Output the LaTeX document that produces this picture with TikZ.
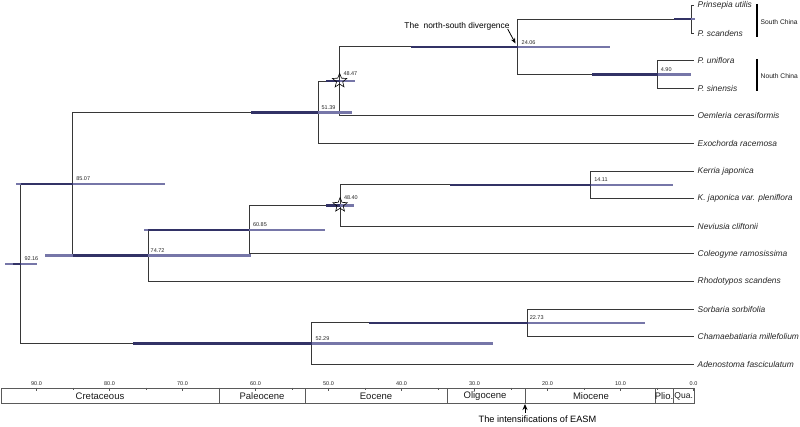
\documentclass[tikz,border=0pt]{standalone}
\usepackage{fontspec}
\setmainfont{Liberation Sans}
\usetikzlibrary{shapes.geometric,arrows.meta}
\definecolor{barlight}{RGB}{118,118,168}
\definecolor{bardark}{RGB}{50,50,102}
\definecolor{branchc}{RGB}{55,55,55}
\definecolor{axisc}{RGB}{90,90,90}
\begin{document}
\begin{tikzpicture}[x=1pt,y=-1pt,
  br/.style={draw=branchc, line width=0.9pt},
  barL/.style={draw=barlight, line width=2.2pt},
  barD/.style={draw=bardark, line width=2.2pt},
  tip/.style={anchor=west, inner sep=0pt, font=\fontsize{8.4}{10}\selectfont\itshape, text=black!85},
  numlab/.style={anchor=west, inner sep=0pt, font=\fontsize{5.5}{6}\selectfont, text=black!85},
  axlab/.style={inner sep=0pt, font=\fontsize{5.5}{6}\selectfont, text=black!85},
  eplab/.style={inner sep=0pt, font=\fontsize{9.5}{11}\selectfont, text=black!90},
  clade/.style={inner sep=0pt, anchor=west, font=\fontsize{6.7}{8}\selectfont, text=black!90},
  annot/.style={inner sep=0pt, font=\fontsize{8.4}{10}\selectfont, text=black},
  starsh/.style={star, star points=5, star point ratio=2.3, minimum size=15pt, inner sep=0pt, draw=black, line width=0.6pt},
  axline/.style={draw=axisc, line width=0.8pt}]
\useasboundingbox (0,0) rectangle (800,427);

% ---- tip ends and labels
\coordinate (e0) at (693.5,5.5);   \node[tip] (t0) at (697.5,5.5) {Prinsepia utilis};
\coordinate (e1) at (693.5,33.1);  \node[tip] (t1) at (697.5,33.1) {P. scandens};
\coordinate (e2) at (693.5,60.7);  \node[tip] (t2) at (697.5,60.7) {P. uniflora};
\coordinate (e3) at (693.5,88.3);  \node[tip] (t3) at (697.5,88.3) {P. sinensis};
\coordinate (e4) at (693.5,115.9); \node[tip] (t4) at (697.5,115.9) {Oemleria cerasiformis};
\coordinate (e5) at (693.5,143.5); \node[tip] (t5) at (697.5,143.5) {Exochorda racemosa};
\coordinate (e6) at (693.5,171.1); \node[tip] (t6) at (697.5,171.1) {Kerria japonica};
\coordinate (e7) at (693.5,198.7); \node[tip] (t7) at (697.5,198.7) {K. japonica var. pleniflora};
\coordinate (e8) at (693.5,226.3); \node[tip] (t8) at (697.5,226.3) {Neviusia cliftonii};
\coordinate (e9) at (693.5,253.9); \node[tip] (t9) at (697.5,253.9) {Coleogyne ramosissima};
\coordinate (e10) at (693.5,281.5); \node[tip] (t10) at (697.5,281.5) {Rhodotypos scandens};
\coordinate (e11) at (693.5,309.1); \node[tip] (t11) at (697.5,309.1) {Sorbaria sorbifolia};
\coordinate (e12) at (693.5,336.7); \node[tip] (t12) at (697.5,336.7) {Chamaebatiaria millefolium};
\coordinate (e13) at (693.5,364.3); \node[tip] (t13) at (697.5,364.3) {Adenostoma fasciculatum};

% ---- internal nodes
\coordinate (root)  at (20.7,263.8);
\coordinate (n8507) at (72.5,184.0);
\coordinate (n5139) at (318.4,112.45);
\coordinate (n4847) at (339.7,81.4);
\coordinate (n2406) at (517.9,46.9);
\coordinate (nPri)  at (691,19.3);
\coordinate (n0490) at (657.7,74.5);
\coordinate (n7472) at (148,255.6);
\coordinate (n6085) at (249.3,229.75);
\coordinate (n4840) at (340.2,205.6);
\coordinate (n1411) at (590.5,184.9);
\coordinate (n5229) at (311.8,343.6);
\coordinate (n2273) at (527.6,322.9);

% ---- branches
\draw[br] (root) |- (n8507);  \draw[br] (root) |- (n5229);
\draw[br] (n8507) |- (n5139); \draw[br] (n8507) |- (n7472);
\draw[br] (n5139) |- (n4847); \draw[br] (n5139) |- (e5);
\draw[br] (n4847) |- (n2406); \draw[br] (n4847) |- (e4);
\draw[br] (n2406) |- (nPri);  \draw[br] (n2406) |- (n0490);
\draw[br] (nPri) |- (e0);     \draw[br] (nPri) |- (e1);
\draw[br] (n0490) |- (e2);    \draw[br] (n0490) |- (e3);
\draw[br] (n7472) |- (n6085); \draw[br] (n7472) |- (e10);
\draw[br] (n6085) |- (n4840); \draw[br] (n6085) |- (e9);
\draw[br] (n4840) |- (n1411); \draw[br] (n4840) |- (e8);
\draw[br] (n1411) |- (e6);    \draw[br] (n1411) |- (e7);
\draw[br] (n5229) |- (n2273); \draw[br] (n5229) |- (e13);
\draw[br] (n2273) |- (e11);   \draw[br] (n2273) |- (e12);

% ---- HPD bars
\draw[barL] (5,263.8) -- (37,263.8);      \draw[barD] (13,263.8) -- (20.7,263.8);
\draw[barL] (16,184.0) -- (165,184.0);    \draw[barD] (20.7,184.0) -- (72.5,184.0);
\draw[barL] (251,112.45) -- (352,112.45); \draw[barD] (251,112.45) -- (318.4,112.45);
\draw[barL] (326,81.4) -- (355,81.4);     \draw[barD] (326,81.4) -- (339.7,81.4);
\draw[barL] (411,46.9) -- (610,46.9);     \draw[barD] (411,46.9) -- (517.9,46.9);
\draw[barL] (674,19.3) -- (695,19.3);     \draw[barD] (674,19.3) -- (691,19.3);
\draw[barL] (592,74.5) -- (691,74.5);     \draw[barD] (592,74.5) -- (657.7,74.5);
\draw[barL] (45,255.6) -- (251,255.6);    \draw[barD] (72.5,255.6) -- (148,255.6);
\draw[barL] (144,229.75) -- (325,229.75); \draw[barD] (148,229.75) -- (249.3,229.75);
\draw[barL] (326,205.6) -- (354,205.6);   \draw[barD] (326,205.6) -- (340.2,205.6);
\draw[barL] (450,184.9) -- (673,184.9);   \draw[barD] (450,184.9) -- (590.5,184.9);
\draw[barL] (133,343.6) -- (493,343.6);   \draw[barD] (133,343.6) -- (311.8,343.6);
\draw[barL] (369,322.9) -- (645,322.9);   \draw[barD] (369,322.9) -- (527.6,322.9);

% ---- stars
\node[starsh] (s1) at (339.6,80.8) {};
\node[starsh] (s2) at (340.1,205.0) {};

% ---- node ages
\path (root)  ++(3.6,-5.2) node[numlab] (a1) {92.16};
\path (n8507) ++(3.6,-5.2) node[numlab] (a2) {85.07};
\path (n5139) ++(3.0,-5.2) node[numlab] (a3) {51.39};
\path (n4847) ++(3.6,-8.2) node[numlab] (a4) {48.47};
\path (n2406) ++(3.6,-4.4) node[numlab] (a5) {24.06};
\path (n0490) ++(3.0,-5.2) node[numlab] (a6) {4.90};
\path (n7472) ++(2.5,-5.2) node[numlab] (a7) {74.72};
\path (n6085) ++(3.6,-5.2) node[numlab] (a8) {60.85};
\path (n4840) ++(3.6,-8.2) node[numlab] (a9) {48.40};
\path (n1411) ++(3.6,-5.2) node[numlab] (a10) {14.11};
\path (n5229) ++(3.6,-5.2) node[numlab] (a11) {52.29};
\path (n2273) ++(2.0,-5.2) node[numlab] (a12) {22.73};

% ---- clade bars
\coordinate (sc1) at (757,4); \coordinate (sc2) at (757,37);
\draw[line width=1.6pt] (sc1) -- (sc2);
\node[clade] (sc) at (760.5,22.5) {South China};
\coordinate (nc1) at (757,59); \coordinate (nc2) at (757,91);
\draw[line width=1.6pt] (nc1) -- (nc2);
\node[clade] (nc) at (760.5,76) {Nouth China};

% ---- annotation: divergence
\node[annot] (div) at (457,26) {The \ north-south divergence};
\coordinate (divtip) at (515.5,43.5);
\draw[line width=0.8pt, -{Stealth[length=5.5pt,width=4.5pt]}] ([xshift=-2pt,yshift=1pt]div.south east) -- (divtip);

% ---- time axis
\draw[axline] (1.5,388) rectangle (694,403);
\foreach \xb in {219,305,447,525,655,673} {\draw[axline] (\xb,388) -- (\xb,403);}
\foreach \t in {0,10,...,90} {
  \draw[axline] ({693.5-7.3*\t},387.5) -- ({693.5-7.3*\t},391);
  \node[axlab] at ({693.5-7.3*\t},383.3) {\t.0};
}
\foreach \t in {5,15,...,85} {
  \draw[axline] ({693.5-7.3*\t},387.5) -- ({693.5-7.3*\t},390);
}
\node[eplab] (ep1) at (100,396) {Cretaceous};
\node[eplab] (ep2) at (262,396) {Paleocene};
\node[eplab] (ep3) at (376,396) {Eocene};
\node[eplab] (ep4) at (485,396) {Oligocene};
\node[eplab] (ep5) at (591,396) {Miocene};
\node[eplab] (ep6) at (664,396) {Plio.};
\node[eplab, font=\fontsize{8.5}{10}\selectfont] (ep7) at (683.7,396) {Qua.};

% ---- annotation: EASM
\node[annot, font=\fontsize{9.2}{11}\selectfont] (easm) at (537.5,419) {The intensifications of EASM};
\coordinate (easmtail) at (525,413);
\coordinate (easmtip) at (525,404);
\draw[line width=0.8pt, -{Stealth[length=6pt,width=5pt]}] (easmtail) -- (easmtip);
\end{tikzpicture}
\end{document}
